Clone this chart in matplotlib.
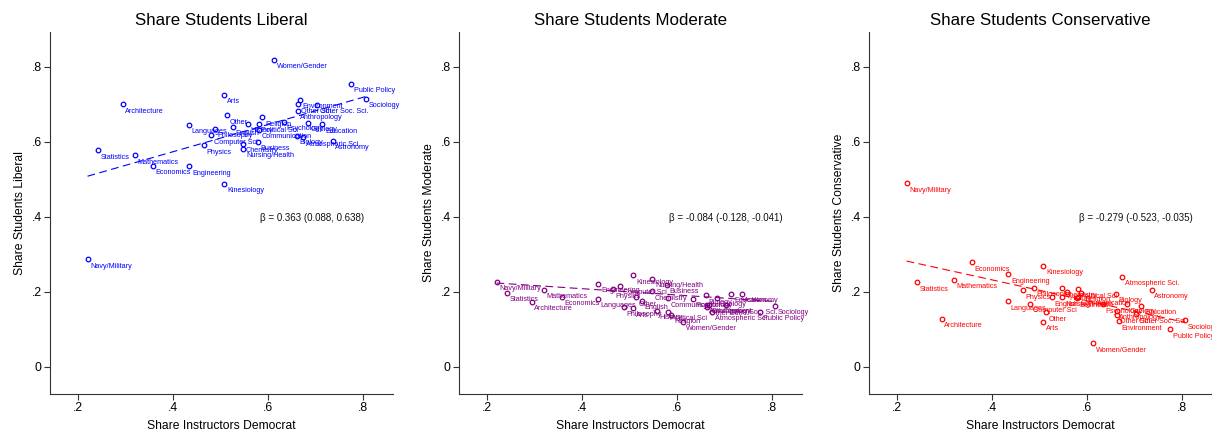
import numpy as np
import matplotlib.pyplot as plt

plt.rcParams['font.family'] = ['Liberation Sans', 'DejaVu Sans']

# field, share of instructors who are Democrats, student ideology shares
fields = ['Navy/Military', 'Statistics', 'Architecture', 'Mathematics', 'Economics',
          'Engineering', 'Languages', 'Physics', 'Computer Sci', 'Philosophy',
          'Arts', 'Other', 'Kinesiology', 'English', 'Chemistry',
          'Nursing/Health', 'History', 'Business', 'Political Sci', 'Communication',
          'Religion', 'Women/Gender', 'Psychology', 'Biology', 'Anthropology',
          'Other Sci.', 'Environment', 'Atmospheric Sci.', 'Geology', 'Other Soc. Sci.',
          'Education', 'Astronomy', 'Public Policy', 'Sociology']
share_dem = [0.220, 0.241, 0.294, 0.319, 0.357,
             0.434, 0.433, 0.465, 0.480, 0.488,
             0.507, 0.514, 0.508, 0.526, 0.547,
             0.548, 0.557, 0.578, 0.580, 0.580,
             0.588, 0.612, 0.633, 0.660, 0.662,
             0.663, 0.667, 0.673, 0.684, 0.704,
             0.714, 0.736, 0.775, 0.806]
share_lib = [0.286, 0.577, 0.700, 0.564, 0.536,
             0.534, 0.645, 0.590, 0.617, 0.635,
             0.725, 0.670, 0.488, 0.640, 0.594,
             0.581, 0.647, 0.599, 0.647, 0.632,
             0.665, 0.818, 0.653, 0.615, 0.683,
             0.700, 0.712, 0.612, 0.650, 0.698,
             0.646, 0.603, 0.755, 0.714]
share_mod = [0.226, 0.197, 0.173, 0.205, 0.187,
             0.221, 0.181, 0.206, 0.216, 0.158,
             0.156, 0.185, 0.244, 0.176, 0.201,
             0.235, 0.149, 0.219, 0.147, 0.182,
             0.138, 0.120, 0.181, 0.190, 0.165,
             0.160, 0.165, 0.147, 0.184, 0.164,
             0.194, 0.195, 0.147, 0.163]
share_con = [0.489, 0.225, 0.127, 0.231, 0.278,
             0.246, 0.174, 0.204, 0.168, 0.210,
             0.119, 0.145, 0.269, 0.185, 0.209,
             0.185, 0.200, 0.182, 0.206, 0.186,
             0.197, 0.062, 0.166, 0.195, 0.149,
             0.138, 0.121, 0.240, 0.166, 0.140,
             0.163, 0.205, 0.100, 0.124]

titles = ['Share Students Liberal', 'Share Students Moderate', 'Share Students Conservative']
colors = ['#0000ff', '#800080', '#ff0000']
betas = [0.363, -0.084, -0.279]
ci_lo = [0.088, -0.128, -0.523]
ci_hi = [0.638, -0.041, -0.035]
intercepts = [0.428, 0.2415, 0.343]

xticks = [0.2, 0.4, 0.6, 0.8]
xticklabels = ['.2', '.4', '.6', '.8']
yticks = [0, 0.2, 0.4, 0.6, 0.8]
yticklabels = ['0', '.2', '.4', '.6', '.8']

x = np.array(share_dem)
ys = [np.array(share_lib), np.array(share_mod), np.array(share_con)]

fig = plt.figure(figsize=(12.12, 4.32), dpi=100)
lefts = [50, 459, 869]
for k in range(3):
    ax = fig.add_axes([lefts[k] / 1212, 1 - 394 / 432, 343 / 1212, 362 / 432])
    c = colors[k]
    y = ys[k]
    ax.plot(x, y, 'o', mfc='none', mec=c, ms=3.3, mew=0.9, zorder=3)
    for name, xi, yi in zip(fields, x, y):
        ax.annotate(name, (xi, yi), xytext=(2, -5), textcoords='offset points',
                    fontsize=5.2, color=c, ha='left', va='center',
                    annotation_clip=False)
    # fitted line
    xl = np.array([x.min(), x.max()])
    ax.plot(xl, intercepts[k] + betas[k] * xl, color=c, lw=0.8, dashes=(7, 4))
    ax.text(0.583, 0.397, 'β = %.3f (%.3f, %.3f)' % (betas[k], ci_lo[k], ci_hi[k]),
            fontsize=7, color='#111111', ha='left', va='center')

    ax.set_xlim(0.141, 0.863)
    ax.set_ylim(-0.073, 0.8925)
    ax.set_xticks(xticks)
    ax.set_xticklabels(xticklabels)
    ax.set_yticks(yticks)
    ax.set_yticklabels(yticklabels)
    for s in ['top', 'right']:
        ax.spines[s].set_visible(False)
    for s in ['left', 'bottom']:
        ax.spines[s].set_color('#333333')
        ax.spines[s].set_linewidth(0.8)
    ax.tick_params(length=4, width=0.8, color='#333333', labelsize=8.7, pad=2)
    ax.set_title(titles[k], fontsize=12.2, pad=5)
    ax.set_xlabel('Share Instructors Democrat', fontsize=8.7, labelpad=4)
    ax.set_ylabel(titles[k], fontsize=8.7, labelpad=4)

fig.savefig('out.png', dpi=100)
